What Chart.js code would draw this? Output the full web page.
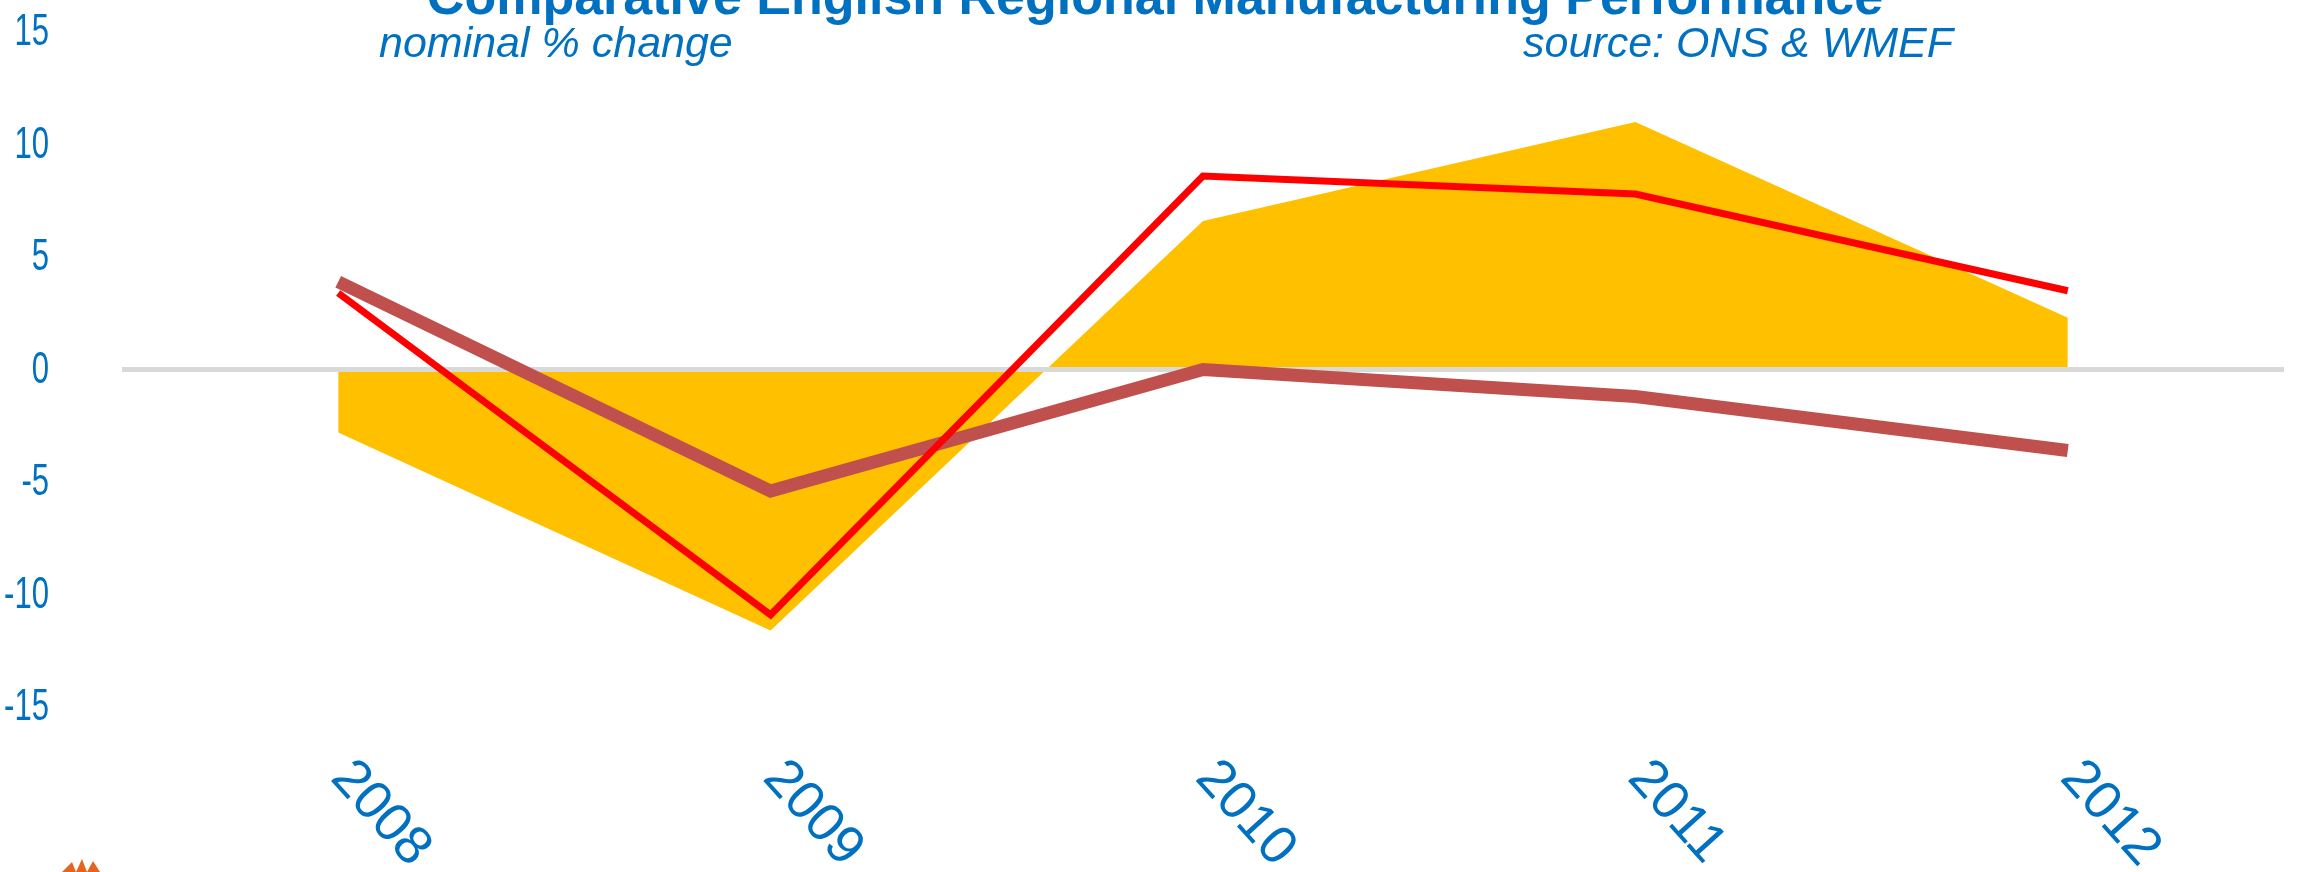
<!DOCTYPE html>
<html>
<head>
<meta charset="utf-8">
<script src="https://cdn.jsdelivr.net/npm/chart.js@4.4.1/dist/chart.umd.min.js"></script>
<style>
  html, body { margin: 0; padding: 0; background: #fff; }
  .wrap { position: relative; width: 2303px; height: 872px; }
</style>
</head>
<body>
<div class="wrap"><canvas id="canvasID"></canvas></div>
<script>
// data (nominal % change)
const years = ['2008', '2009', '2010', '2011', '2012']
const areaValues = [-2.8, -11.6, 6.6, 11.0, 2.3]
const redValues = [3.4, -10.9, 8.6, 7.8, 3.5]
const brownValues = [3.9, -5.4, 0.0, -1.2, -3.6]
const yTicks = [-15, -10, -5, 0, 5, 10, 15]

const chartTitle = 'Comparative English Regional Manufacturing Performance'
const noteLeft = 'nominal % change'
const noteRight = 'source: ONS & WMEF'

const blue = '#0070C0'
const fontFamily = '"Liberation Sans", Arial, sans-serif'

///////////////////////////////////////////////////////
// zero line sits above the orange area but under the lines
///////////////////////////////////////////////////////
const zeroLinePlugin = {
  id: 'zeroLine',
  afterDatasetDraw(chart, args) {
    if (args.index !== 2) return
    const { ctx, chartArea, scales: { y } } = chart
    const py = y.getPixelForValue(0)
    ctx.save()
    ctx.strokeStyle = '#D9D9D9'
    ctx.lineWidth = 5
    ctx.beginPath()
    ctx.moveTo(chartArea.left, py)
    ctx.lineTo(chartArea.right, py)
    ctx.stroke()
    ctx.restore()
  },
}

///////////////////////////////////////////////////////
// title, notes, narrow y labels and the slanted year labels
///////////////////////////////////////////////////////
const textPlugin = {
  id: 'texts',
  afterDraw(chart) {
    const { ctx, chartArea, scales: { x, y } } = chart
    ctx.save()
    ctx.fillStyle = blue

    ctx.font = 'bold 52px ' + fontFamily
    ctx.textAlign = 'center'
    ctx.textBaseline = 'alphabetic'
    ctx.fillText(chartTitle, 1155, 14)

    ctx.font = 'italic 43px ' + fontFamily
    ctx.textAlign = 'left'
    ctx.fillText(noteLeft, 379, 57)
    ctx.fillText(noteRight, 1523, 57)

    // y tick labels, squeezed like the original
    ctx.font = '45px ' + fontFamily
    ctx.textAlign = 'right'
    ctx.textBaseline = 'middle'
    yTicks.forEach((v) => {
      const py = y.getPixelForValue(v)
      ctx.save()
      ctx.translate(49, py + 1)
      ctx.scale(0.69, 1)
      ctx.fillText(String(v), 0, 0)
      ctx.restore()
    })

    ctx.font = '54px ' + fontFamily
    ctx.textAlign = 'left'
    years.forEach((label, i) => {
      const px = x.getPixelForTick(i)
      ctx.save()
      ctx.translate(px + 2, chartArea.bottom + 62)
      ctx.rotate((48 * Math.PI) / 180)
      ctx.fillText(label, 0, 0)
      ctx.restore()
    })

    // bit of the logo that is cut off at the bottom left
    ctx.fillStyle = '#E8641E'
    ctx.beginPath()
    ctx.moveTo(62, 872)
    ctx.lineTo(72, 862)
    ctx.lineTo(76, 872)
    ctx.lineTo(82, 859)
    ctx.lineTo(87, 872)
    ctx.lineTo(93, 861)
    ctx.lineTo(100, 872)
    ctx.closePath()
    ctx.fill()
    ctx.restore()
  },
}

const myChart = new Chart(document.getElementById('canvasID'), {
  type: 'line',
  data: {
    labels: years,
    datasets: [
      {
        data: redValues,
        borderColor: '#FF0000',
        borderWidth: 7,
        pointRadius: 0,
        fill: false,
        tension: 0,
      },
      {
        data: brownValues,
        borderColor: '#C0504D',
        borderWidth: 13,
        pointRadius: 0,
        fill: false,
        tension: 0,
      },
      {
        data: areaValues,
        borderWidth: 0,
        borderColor: 'rgba(0,0,0,0)',
        backgroundColor: '#FFC000',
        pointRadius: 0,
        fill: 'origin',
        tension: 0,
      },
    ],
  },
  options: {
    responsive: true,
    maintainAspectRatio: false,
    animation: false,
    layout: {
      padding: { top: 32, left: 10, right: 19, bottom: 165 },
    },
    scales: {
      x: {
        offset: true,
        grid: { display: false, drawTicks: false },
        border: { display: false },
        ticks: { display: false },
      },
      y: {
        min: -15,
        max: 15,
        afterBuildTicks: (scale) => {
          scale.ticks = yTicks.map((v) => ({ value: v }))
        },
        afterFit: (scale) => {
          scale.width = 112
          scale.paddingTop = 0
          scale.paddingBottom = 0
        },
        grid: { display: false, drawTicks: false },
        border: { display: false },
        ticks: { display: false },
      },
    },
    plugins: {
      legend: { display: false },
      tooltip: { enabled: false },
    },
  },
  plugins: [zeroLinePlugin, textPlugin],
})
</script>
</body>
</html>
